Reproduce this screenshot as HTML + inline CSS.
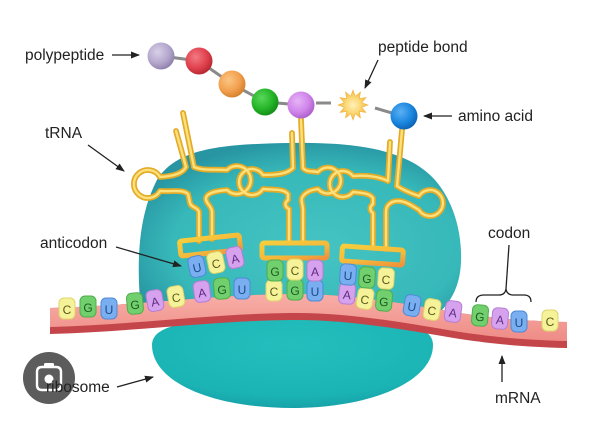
<!DOCTYPE html>
<html><head><meta charset="utf-8">
<style>
html,body{margin:0;padding:0;background:#fff;}
svg{display:block;}
text{font-family:"Liberation Sans",Arial,sans-serif;}
</style></head><body>
<svg width="600" height="427" viewBox="0 0 600 427" xmlns="http://www.w3.org/2000/svg">
<defs>
 <radialGradient id="up" cx="0.55" cy="0.6" r="0.62">
  <stop offset="0" stop-color="#45c4c2"/>
  <stop offset="0.72" stop-color="#37b8b9"/>
  <stop offset="1" stop-color="#2795a2"/>
 </radialGradient>
 <radialGradient id="low" cx="0.5" cy="0.3" r="0.7">
  <stop offset="0" stop-color="#24bfbd"/>
  <stop offset="0.8" stop-color="#1bb4b5"/>
  <stop offset="1" stop-color="#17a3a9"/>
 </radialGradient>
 <linearGradient id="pink" x1="0" y1="0" x2="0" y2="1">
  <stop offset="0" stop-color="#f8aea7"/>
  <stop offset="1" stop-color="#ef8b86"/>
 </linearGradient>
 <linearGradient id="boxg" x1="0" y1="0" x2="1" y2="1">
  <stop offset="0" stop-color="#f6cd3c"/>
  <stop offset="0.6" stop-color="#f5b83a"/>
  <stop offset="1" stop-color="#f0923a"/>
 </linearGradient>
 <radialGradient id="g1" cx="0.38" cy="0.35" r="0.7"><stop offset="0" stop-color="#d8d0e8"/><stop offset="0.6" stop-color="#b4a7cc"/><stop offset="1" stop-color="#8c7ca8"/></radialGradient>
 <radialGradient id="g2" cx="0.38" cy="0.35" r="0.7"><stop offset="0" stop-color="#f27a83"/><stop offset="0.6" stop-color="#e0414d"/><stop offset="1" stop-color="#b2262f"/></radialGradient>
 <radialGradient id="g3" cx="0.38" cy="0.35" r="0.7"><stop offset="0" stop-color="#fbc683"/><stop offset="0.6" stop-color="#f2a04e"/><stop offset="1" stop-color="#d17c28"/></radialGradient>
 <radialGradient id="g4" cx="0.38" cy="0.35" r="0.7"><stop offset="0" stop-color="#5ad85a"/><stop offset="0.6" stop-color="#25b428"/><stop offset="1" stop-color="#128a15"/></radialGradient>
 <radialGradient id="g5" cx="0.38" cy="0.35" r="0.7"><stop offset="0" stop-color="#e6b4f6"/><stop offset="0.6" stop-color="#cf84ea"/><stop offset="1" stop-color="#a85cc8"/></radialGradient>
 <radialGradient id="g6" cx="0.38" cy="0.35" r="0.7"><stop offset="0" stop-color="#5cb0f2"/><stop offset="0.6" stop-color="#1a86e0"/><stop offset="1" stop-color="#0b5fb0"/></radialGradient>
 <radialGradient id="gs" cx="0.5" cy="0.5" r="0.5"><stop offset="0" stop-color="#fff0b8"/><stop offset="0.5" stop-color="#fbd977"/><stop offset="1" stop-color="#f2b540"/></radialGradient>
 <marker id="ah" markerWidth="10" markerHeight="8" refX="8" refY="3.5" orient="auto" markerUnits="userSpaceOnUse">
  <path d="M0,0 L9,3.5 L0,7 Z" fill="#222"/>
 </marker>
 <g id="trna">
  <path d="M183,113 L194,167"/>
  <path d="M176,131 L186,167"/>
  <path d="M186,167 C183,173 175,176 160,177 A14,14 0 1 0 160,191 C172,192 182,189 188,194 L190,203 C191,208 199,207 199,213 L199,241"/>
  <path d="M212,239 L212,212 C212,206 205,203 206,198 C207,193 215,191 227,190 A14,14 0 1 0 227,170 C215,169 203,171 194,167"/>
  <path d="M301,119 L303,168"/>
  <path d="M292,133 L293,168"/>
  <path d="M293,168 C288,173 280,175 263,175 A13,13 0 1 0 263,189 C276,190 284,189 288,194 L288,200 C284,203 285,207 289,209 L289,243"/>
  <path d="M303,243 L303,210 C303,204 300,200 303,196 C307,191 312,190 318,189 A13,13 0 1 0 318,172 C311,171 306,172 303,168"/>
  <path d="M402,130 L397,186"/>
  <path d="M390,142 L388,181"/>
  <path d="M388,181 C380,177 368,175 353,176 A13,13 0 1 0 353,192 C362,193 369,193 373,198 L373,204 C369,207 370,211 373,213 L373,248"/>
  <path d="M386,249 L386,212 C386,205 391,201 398,201 C405,201 411,205 419,210 A13,13 0 1 0 419,196 C410,193 403,190 397,186"/>
 </g>
</defs>

<!-- lower subunit -->
<path d="M152,345 C152,322 200,318 292,318 C390,318 433,322 433,345 C433,382 370,408 292,408 C212,408 152,382 152,345 Z" fill="url(#low)"/>
<!-- upper subunit -->
<path d="M140,300 C137,260 138,215 158,178 C178,150 215,144 290,143 C365,142 410,152 435,180 C455,203 462,235 461,262 C460,285 452,300 440,312 L150,318 Z" fill="url(#up)"/>

<!-- polypeptide connectors -->
<g stroke="#8a8a8a" stroke-width="3" fill="none">
 <path d="M161,56 L199,61 L232,84 L265,102 L301,105"/>
 <path d="M316,103 L331,103"/>
 <path d="M375,108 L392,113"/>
</g>

<!-- tRNAs -->
<use href="#trna" fill="none" stroke="#e3ab28" stroke-width="5.8" stroke-linecap="round" stroke-linejoin="round"/>
<use href="#trna" fill="none" stroke="#fbe07c" stroke-width="2.4" stroke-linecap="round" stroke-linejoin="round"/>

<!-- anticodon boxes -->
<g fill="none" stroke="url(#boxg)" stroke-width="5">
 <rect x="180" y="238" width="60" height="15" rx="2" transform="rotate(-6 210 245)"/>
 <rect x="262" y="243" width="65" height="15" rx="2"/>
 <rect x="342" y="248" width="61" height="15" rx="2" transform="rotate(4 372 255)"/>
</g>

<!-- mRNA strip -->
<path d="M50,308 C130,306 210,295 290,294 C350,293 410,305 460,313 C500,319 530,321 567,322 L567,348 C530,347 500,345 460,339 C410,331 350,319 290,320 C210,321 130,332 50,334 Z" fill="#c4454a"/>
<path d="M50,308 C130,306 210,295 290,294 C350,293 410,305 460,313 C500,319 530,321 567,322 L567,341 C530,340 500,338 460,332 C410,324 350,312 290,313 C210,314 130,325 50,327 Z" fill="url(#pink)"/>

<!-- tiles -->
<g font-size="12" text-anchor="middle" stroke-width="1">
 <g transform="translate(67,309)"><rect x="-8" y="-11" width="16" height="21" rx="5" fill="#f6f29a" stroke="#ddd56a"/><text y="5" fill="#5a5a18">C</text></g>
 <g transform="translate(88,307)"><rect x="-8" y="-11" width="16" height="21" rx="5" fill="#72cf6e" stroke="#4fae4c"/><text y="5" fill="#1f5d20">G</text></g>
 <g transform="translate(109,309)"><rect x="-8" y="-11" width="16" height="21" rx="5" fill="#79aef0" stroke="#4f8ad6"/><text y="5" fill="#1b4a8a">U</text></g>
 <g transform="translate(135,304) rotate(-5)"><rect x="-8" y="-11" width="16" height="21" rx="5" fill="#72cf6e" stroke="#4fae4c"/><text y="5" fill="#1f5d20">G</text></g>
 <g transform="translate(155,301) rotate(-10)"><rect x="-8" y="-11" width="16" height="21" rx="5" fill="#d6a2ee" stroke="#b57ed4"/><text y="5" fill="#5e2a82">A</text></g>
 <g transform="translate(176,297) rotate(-10)"><rect x="-8" y="-11" width="16" height="21" rx="5" fill="#f6f29a" stroke="#ddd56a"/><text y="5" fill="#5a5a18">C</text></g>
 <g transform="translate(202,292) rotate(-8)"><rect x="-8" y="-11" width="16" height="21" rx="5" fill="#d6a2ee" stroke="#b57ed4"/><text y="5" fill="#5e2a82">A</text></g>
 <g transform="translate(222,289) rotate(-5)"><rect x="-8" y="-11" width="16" height="21" rx="5" fill="#72cf6e" stroke="#4fae4c"/><text y="5" fill="#1f5d20">G</text></g>
 <g transform="translate(242,289)"><rect x="-8" y="-11" width="16" height="21" rx="5" fill="#79aef0" stroke="#4f8ad6"/><text y="5" fill="#1b4a8a">U</text></g>
 <g transform="translate(274,291)"><rect x="-8" y="-11" width="16" height="21" rx="5" fill="#f6f29a" stroke="#ddd56a"/><text y="5" fill="#5a5a18">C</text></g>
 <g transform="translate(295,290)"><rect x="-8" y="-11" width="16" height="21" rx="5" fill="#72cf6e" stroke="#4fae4c"/><text y="5" fill="#1f5d20">G</text></g>
 <g transform="translate(315,291)"><rect x="-8" y="-11" width="16" height="21" rx="5" fill="#79aef0" stroke="#4f8ad6"/><text y="5" fill="#1b4a8a">U</text></g>
 <g transform="translate(347,294) rotate(5)"><rect x="-8" y="-11" width="16" height="21" rx="5" fill="#d6a2ee" stroke="#b57ed4"/><text y="5" fill="#5e2a82">A</text></g>
 <g transform="translate(365,299) rotate(10)"><rect x="-8" y="-11" width="16" height="21" rx="5" fill="#f6f29a" stroke="#ddd56a"/><text y="5" fill="#5a5a18">C</text></g>
 <g transform="translate(384,301) rotate(5)"><rect x="-8" y="-11" width="16" height="21" rx="5" fill="#72cf6e" stroke="#4fae4c"/><text y="5" fill="#1f5d20">G</text></g>
 <g transform="translate(412,306) rotate(10)"><rect x="-8" y="-11" width="16" height="21" rx="5" fill="#79aef0" stroke="#4f8ad6"/><text y="5" fill="#1b4a8a">U</text></g>
 <g transform="translate(432,310) rotate(10)"><rect x="-8" y="-11" width="16" height="21" rx="5" fill="#f6f29a" stroke="#ddd56a"/><text y="5" fill="#5a5a18">C</text></g>
 <g transform="translate(453,312) rotate(8)"><rect x="-8" y="-11" width="16" height="21" rx="5" fill="#d6a2ee" stroke="#b57ed4"/><text y="5" fill="#5e2a82">A</text></g>
 <g transform="translate(480,316) rotate(5)"><rect x="-8" y="-11" width="16" height="21" rx="5" fill="#72cf6e" stroke="#4fae4c"/><text y="5" fill="#1f5d20">G</text></g>
 <g transform="translate(500,319) rotate(5)"><rect x="-8" y="-11" width="16" height="21" rx="5" fill="#d6a2ee" stroke="#b57ed4"/><text y="5" fill="#5e2a82">A</text></g>
 <g transform="translate(519,322)"><rect x="-8" y="-11" width="16" height="21" rx="5" fill="#79aef0" stroke="#4f8ad6"/><text y="5" fill="#1b4a8a">U</text></g>
 <g transform="translate(550,321)"><rect x="-8" y="-11" width="16" height="21" rx="5" fill="#f6f29a" stroke="#ddd56a"/><text y="5" fill="#5a5a18">C</text></g>
 <g transform="translate(197,267) rotate(-12)"><rect x="-8" y="-11" width="16" height="21" rx="5" fill="#79aef0" stroke="#4f8ad6"/><text y="5" fill="#1b4a8a">U</text></g>
 <g transform="translate(216,263) rotate(-12)"><rect x="-8" y="-11" width="16" height="21" rx="5" fill="#f6f29a" stroke="#ddd56a"/><text y="5" fill="#5a5a18">C</text></g>
 <g transform="translate(235,258) rotate(-12)"><rect x="-8" y="-11" width="16" height="21" rx="5" fill="#d6a2ee" stroke="#b57ed4"/><text y="5" fill="#5e2a82">A</text></g>
 <g transform="translate(275,271)"><rect x="-8" y="-11" width="16" height="21" rx="5" fill="#72cf6e" stroke="#4fae4c"/><text y="5" fill="#1f5d20">G</text></g>
 <g transform="translate(295,270)"><rect x="-8" y="-11" width="16" height="21" rx="5" fill="#f6f29a" stroke="#ddd56a"/><text y="5" fill="#5a5a18">C</text></g>
 <g transform="translate(315,271)"><rect x="-8" y="-11" width="16" height="21" rx="5" fill="#d6a2ee" stroke="#b57ed4"/><text y="5" fill="#5e2a82">A</text></g>
 <g transform="translate(348,275) rotate(4)"><rect x="-8" y="-11" width="16" height="21" rx="5" fill="#79aef0" stroke="#4f8ad6"/><text y="5" fill="#1b4a8a">U</text></g>
 <g transform="translate(367,278) rotate(4)"><rect x="-8" y="-11" width="16" height="21" rx="5" fill="#72cf6e" stroke="#4fae4c"/><text y="5" fill="#1f5d20">G</text></g>
 <g transform="translate(386,279) rotate(4)"><rect x="-8" y="-11" width="16" height="21" rx="5" fill="#f6f29a" stroke="#ddd56a"/><text y="5" fill="#5a5a18">C</text></g>
</g>

<!-- amino acids -->
<circle cx="161" cy="56" r="13.5" fill="url(#g1)"/>
<circle cx="199" cy="61" r="13.5" fill="url(#g2)"/>
<circle cx="232" cy="84" r="13.5" fill="url(#g3)"/>
<circle cx="265" cy="102" r="13.5" fill="url(#g4)"/>
<circle cx="301" cy="105" r="13.5" fill="url(#g5)"/>
<circle cx="404" cy="116" r="13.5" fill="url(#g6)"/>
<polygon points="368,105 361.7,107.3 366,112.5 359.4,111.4 360.5,118 355.3,113.7 353,120 350.7,113.7 345.5,118 346.6,111.4 340,112.5 344.3,107.3 338,105 344.3,102.7 340,97.5 346.6,98.6 345.5,92 350.7,96.3 353,90 355.3,96.3 360.5,92 359.4,98.6 366,97.5 361.7,102.7" fill="url(#gs)" stroke="#f0b540" stroke-width="0.6"/>

<!-- labels and arrows -->
<g font-size="15.5" fill="#222">
 <text x="25" y="60">polypeptide</text>
 <text x="378" y="52">peptide bond</text>
 <text x="458" y="121">amino acid</text>
 <text x="45" y="138">tRNA</text>
 <text x="40" y="248">anticodon</text>
 <text x="488" y="238">codon</text>
 <text x="495" y="403">mRNA</text>
</g>
<g stroke="#222" stroke-width="1.3" fill="none">
 <path d="M112,55 L139,55" marker-end="url(#ah)"/>
 <path d="M378,60 L365,88" marker-end="url(#ah)"/>
 <path d="M452,116 L424,116" marker-end="url(#ah)"/>
 <path d="M88,145 L124,171" marker-end="url(#ah)"/>
 <path d="M116,247 L181,266" marker-end="url(#ah)"/>
 <path d="M117,387 L153,377" marker-end="url(#ah)"/>
 <path d="M502,382 L502,356" marker-end="url(#ah)"/>
 <path d="M509,245 L506,289"/>
 <path d="M476,302 Q476,295 484,295 L499,295 Q505,295 506,289 Q507,295 513,295 L524,295 Q531,295 531,302"/>
</g>

<!-- lens icon -->
<circle cx="49" cy="378" r="26" fill="#5c5c5c"/>
<path d="M42,367 L56,367 Q61,367 61,372 L61,385 Q61,390 56,390 L42,390 Q37,390 37,385 L37,372 Q37,367 42,367 Z" fill="none" stroke="#fff" stroke-width="2.4"/>
<rect x="44" y="363" width="10" height="4" rx="1.5" fill="#fff"/>
<circle cx="49" cy="379" r="4.5" fill="#fff"/>
<text x="46" y="392" font-size="15.5" fill="#222">ribosome</text>
</svg>
</body></html>
